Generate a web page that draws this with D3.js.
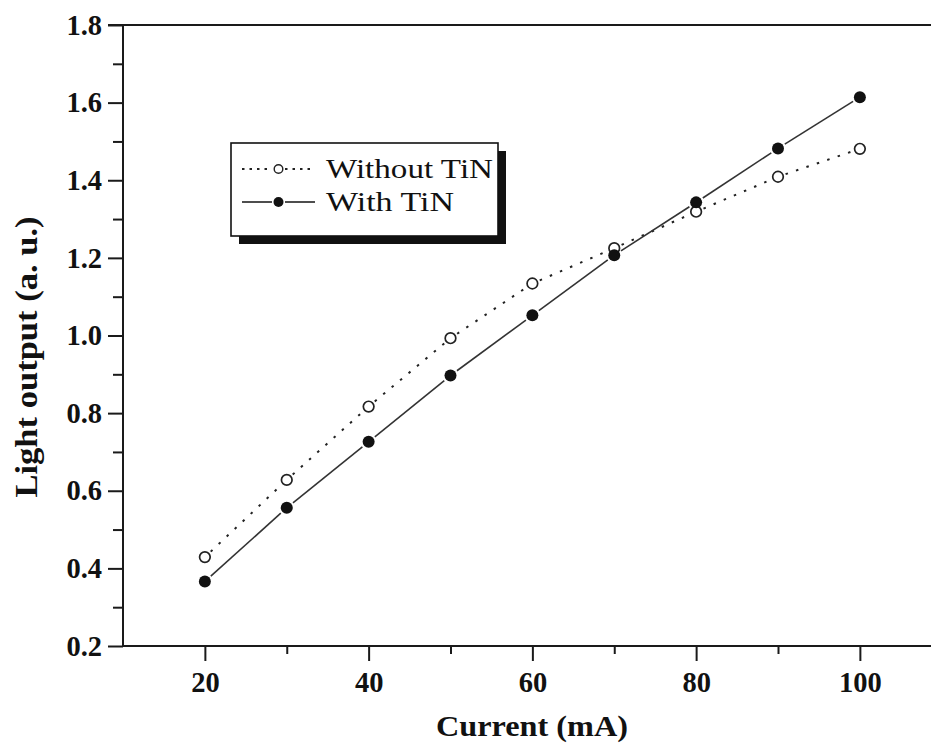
<!DOCTYPE html>
<html>
<head>
<meta charset="utf-8">
<script src="https://cdn.jsdelivr.net/npm/d3@7"></script>
<style>
  html, body { margin: 0; padding: 0; background: #fff; }
  svg { display: block; }
  text { font-family: "Liberation Serif", "Times New Roman", serif; fill: #111; }
</style>
</head>
<body>
<svg id="chart" width="931" height="746"></svg>
<script>
// Light output versus drive current, with and without TiN
const currents = [20, 30, 40, 50, 60, 70, 80, 90, 100];
const withoutTiN = [0.429, 0.628, 0.817, 0.993, 1.134, 1.225, 1.319, 1.409, 1.481];
const withTiN = [0.366, 0.556, 0.726, 0.897, 1.052, 1.207, 1.343, 1.482, 1.614];

const xMajorTicks = [20, 40, 60, 80, 100];
const xMinorTicks = [30, 50, 70, 90];
const yMajorTicks = [0.2, 0.4, 0.6, 0.8, 1.0, 1.2, 1.4, 1.6, 1.8];
const yMinorTicks = [0.3, 0.5, 0.7, 0.9, 1.1, 1.3, 1.5, 1.7];

const seriesNames = ["Without TiN", "With TiN"];
const xTitle = "Current (mA)";
const yTitle = "Light output (a. u.)";

const svg = d3.select("#chart");
const ink = "#1a1a1a";
const serif = "'Liberation Serif', 'Times New Roman', serif";

const x = d3.scaleLinear().domain([10, 110]).range([123, 941.75]);
const y = d3.scaleLinear().domain([0.2, 1.8]).range([646, 25]);

// Axes
const xAxis = svg.append("g").attr("transform", `translate(0,${y(0.2)})`);
xAxis.call(d3.axisBottom(x).tickValues(xMajorTicks).tickSize(15).tickPadding(11).tickFormat(d3.format("d")));
const xMinor = svg.append("g").attr("transform", `translate(0,${y(0.2)})`);
xMinor.call(d3.axisBottom(x).tickValues(xMinorTicks).tickSize(8).tickFormat(""));

const yAxis = svg.append("g").attr("transform", `translate(${x(10)},0)`);
yAxis.call(d3.axisLeft(y).tickValues(yMajorTicks).tickSize(15).tickPadding(6).tickFormat(d3.format(".1f")));
const yMinor = svg.append("g").attr("transform", `translate(${x(10)},0)`);
yMinor.call(d3.axisLeft(y).tickValues(yMinorTicks).tickSize(10).tickFormat(""));

[xAxis, xMinor, yAxis, yMinor].forEach(g => {
  g.select(".domain").remove();
  g.selectAll(".tick line").attr("stroke", ink).attr("stroke-width", 2);
});
[xAxis, yAxis].forEach(g => {
  g.selectAll(".tick text")
    .attr("font-size", 28.5).attr("font-weight", "bold")
    .style("font-family", serif).attr("fill", "#111");
});

// Frame: left axis, bottom axis and top border
svg.append("line").attr("x1", x(10)).attr("x2", x(10)).attr("y1", y(1.8)).attr("y2", y(0.2) + 1)
  .attr("stroke", ink).attr("stroke-width", 2);
svg.append("line").attr("x1", x(10) - 1).attr("x2", 931).attr("y1", y(0.2)).attr("y2", y(0.2))
  .attr("stroke", ink).attr("stroke-width", 2);
svg.append("line").attr("x1", x(10) - 15).attr("x2", 931).attr("y1", y(1.8)).attr("y2", y(1.8))
  .attr("stroke", ink).attr("stroke-width", 2.2);

// Segments between symbols, stopped short of each marker
function segments(values, gap) {
  const out = [];
  for (let i = 0; i < values.length - 1; i++) {
    const x1 = x(currents[i]), y1 = y(values[i]);
    const x2 = x(currents[i + 1]), y2 = y(values[i + 1]);
    const len = Math.hypot(x2 - x1, y2 - y1);
    const ux = (x2 - x1) / len, uy = (y2 - y1) / len;
    out.push({ x1: x1 + ux * gap, y1: y1 + uy * gap, x2: x2 - ux * gap, y2: y2 - uy * gap });
  }
  return out;
}

const plot = svg.append("g");

plot.selectAll("line.dotted").data(segments(withoutTiN, 8)).join("line")
  .attr("class", "dotted")
  .attr("x1", d => d.x1).attr("y1", d => d.y1).attr("x2", d => d.x2).attr("y2", d => d.y2)
  .attr("stroke", "#222").attr("stroke-width", 2).attr("stroke-dasharray", "2.5,8.5");

plot.selectAll("line.solid").data(segments(withTiN, 8)).join("line")
  .attr("class", "solid")
  .attr("x1", d => d.x1).attr("y1", d => d.y1).attr("x2", d => d.x2).attr("y2", d => d.y2)
  .attr("stroke", "#333").attr("stroke-width", 1.6);

plot.selectAll("circle.open").data(withoutTiN).join("circle")
  .attr("class", "open")
  .attr("cx", (d, i) => x(currents[i])).attr("cy", d => y(d)).attr("r", 5.3)
  .attr("fill", "#fff").attr("stroke", "#222").attr("stroke-width", 1.7);

plot.selectAll("circle.filled").data(withTiN).join("circle")
  .attr("class", "filled")
  .attr("cx", (d, i) => x(currents[i])).attr("cy", d => y(d)).attr("r", 6)
  .attr("fill", "#111");

// Axis titles
svg.append("text")
  .attr("x", 532).attr("y", 736)
  .attr("text-anchor", "middle")
  .attr("font-size", 30).attr("font-weight", "bold")
  .attr("textLength", 192).attr("lengthAdjust", "spacingAndGlyphs")
  .text(xTitle);

svg.append("text")
  .attr("transform", "translate(37,357) rotate(-90)")
  .attr("text-anchor", "middle")
  .attr("font-size", 31).attr("font-weight", "bold")
  .attr("textLength", 281).attr("lengthAdjust", "spacingAndGlyphs")
  .text(yTitle);

// Legend with drop shadow
const legend = svg.append("g");
legend.append("rect").attr("x", 239).attr("y", 151).attr("width", 267).attr("height", 93).attr("fill", "#111");
legend.append("rect").attr("x", 231).attr("y", 143).attr("width", 267).attr("height", 93)
  .attr("fill", "#fff").attr("stroke", "#111").attr("stroke-width", 1.6);

const rows = [
  { name: seriesNames[0], cy: 169, dash: "2.5,5", open: true, len: 167 },
  { name: seriesNames[1], cy: 202, dash: null, open: false, len: 128 }
];
rows.forEach(r => {
  const l1 = legend.append("line").attr("x1", 242).attr("x2", 272).attr("y1", r.cy).attr("y2", r.cy)
    .attr("stroke", "#222").attr("stroke-width", r.open ? 2 : 1.6);
  const l2 = legend.append("line").attr("x1", 285).attr("x2", 315).attr("y1", r.cy).attr("y2", r.cy)
    .attr("stroke", "#222").attr("stroke-width", r.open ? 2 : 1.6);
  if (r.dash) { l1.attr("stroke-dasharray", r.dash); l2.attr("stroke-dasharray", r.dash); }
  legend.append("circle").attr("cx", 278.5).attr("cy", r.cy).attr("r", r.open ? 4.3 : 5)
    .attr("fill", r.open ? "#fff" : "#111").attr("stroke", r.open ? "#222" : "none").attr("stroke-width", 1.4);
  legend.append("text").attr("x", 326).attr("y", r.cy + 8.5)
    .attr("font-size", 27)
    .attr("textLength", r.len).attr("lengthAdjust", "spacingAndGlyphs")
    .text(r.name);
});
</script>
</body>
</html>
